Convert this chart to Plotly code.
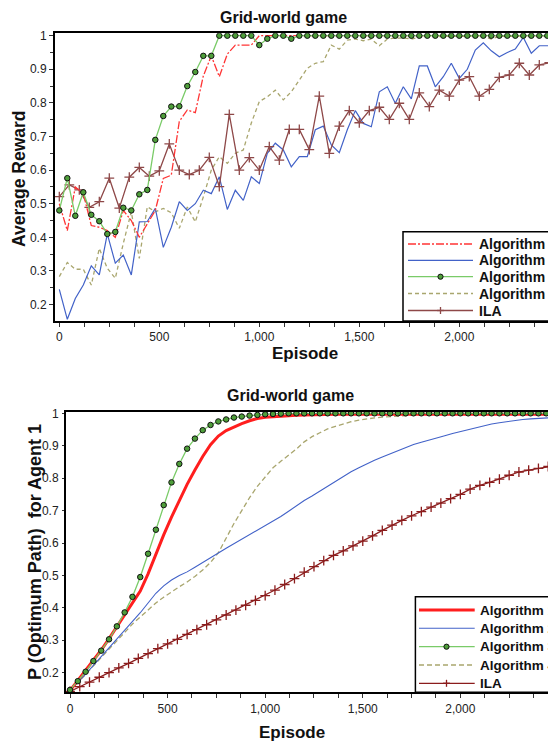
import plotly.graph_objects as go

W, H = 548, 742
FONT = "Liberation Sans, Arial, Helvetica, sans-serif"

# ---------------- data ----------------
episodes_alg = list(range(0, 2521, 40))   # Algorithms 1-4 sampled every 40 episodes
episodes_ila = list(range(0, 2501, 50))   # ILA sampled every 50 episodes

series_names = ["Algorithm 1", "Algorithm 2", "Algorithm 3", "Algorithm 4", "ILA"]

# Top chart: Average Reward
reward_alg1 = [0.50, 0.42, 0.55, 0.53, 0.435, 0.43, 0.42, 0.40, 0.48, 0.45,
               0.40, 0.44, 0.48, 0.575, 0.585, 0.745, 0.779, 0.771, 0.88, 0.94,
               0.878, 0.945, 0.972, 0.972, 0.972, 1.0, 1.0, 1.0, 0.998, 1.0,
               1.0, 1.0, 1.0, 1.0, 1.0, 1.0, 1.0, 1.0, 1.0, 1.0,
               1.0, 1.0, 1.0, 1.0, 1.0, 1.0, 1.0, 1.0, 1.0, 1.0,
               1.0, 1.0, 1.0, 1.0, 1.0, 1.0, 1.0, 1.0, 1.0, 1.0,
               1.0, 1.0, 1.0, 1.0]
reward_alg2 = [0.245, 0.156, 0.218, 0.258, 0.315, 0.288, 0.41, 0.323, 0.347, 0.288,
               0.446, 0.447, 0.486, 0.37, 0.43, 0.506, 0.48, 0.50, 0.54, 0.53,
               0.58, 0.483, 0.54, 0.51, 0.58, 0.56, 0.65, 0.68, 0.66, 0.61,
               0.64, 0.64, 0.72, 0.731, 0.675, 0.652, 0.72, 0.777, 0.739, 0.729,
               0.833, 0.848, 0.799, 0.848, 0.812, 0.91, 0.91, 0.848, 0.878, 0.918,
               0.873, 0.90, 0.957, 0.979, 0.955, 0.9375, 0.95, 0.96, 0.995, 0.948,
               0.97, 0.97, 0.97, 0.97]
reward_alg3 = [0.48, 0.576, 0.464, 0.534, 0.467, 0.448, 0.41, 0.416, 0.488, 0.48,
               0.528, 0.541, 0.69, 0.761, 0.789, 0.79, 0.85, 0.892, 0.94, 0.94,
               1.0, 1.0, 1.0, 1.0, 1.0, 0.972, 0.991, 1.0, 1.0, 0.991,
               1.0, 1.0, 1.0, 1.0, 1.0, 1.0, 1.0, 1.0, 1.0, 1.0,
               1.0, 1.0, 1.0, 1.0, 1.0, 1.0, 1.0, 1.0, 1.0, 1.0,
               1.0, 1.0, 1.0, 1.0, 1.0, 1.0, 1.0, 1.0, 1.0, 1.0,
               1.0, 1.0, 1.0, 1.0]
reward_alg4 = [0.283, 0.325, 0.305, 0.305, 0.258, 0.367, 0.308, 0.278, 0.382, 0.476,
               0.337, 0.491, 0.476, 0.486, 0.473, 0.427, 0.49, 0.446, 0.52, 0.60,
               0.64, 0.62, 0.65, 0.66, 0.74, 0.804, 0.818, 0.838, 0.809, 0.833,
               0.868, 0.903, 0.918, 0.923, 0.972, 0.96, 0.987, 0.99, 0.985, 0.99,
               0.97, 0.99, 0.993, 0.993, 0.99, 0.996, 0.997, 0.998, 0.998, 0.998,
               0.998, 0.998, 0.998, 0.998, 0.99, 0.998, 0.998, 0.998, 0.998, 0.998,
               0.998, 0.998, 0.998, 0.998]
reward_ila = [0.521, 0.556, 0.541, 0.489, 0.506, 0.576, 0.487, 0.579, 0.608, 0.582,
              0.598, 0.678, 0.60, 0.587, 0.60, 0.638, 0.551, 0.766, 0.60, 0.637,
              0.60, 0.67, 0.63, 0.721, 0.721, 0.661, 0.82, 0.65, 0.731, 0.777,
              0.741, 0.777, 0.787, 0.751, 0.799, 0.751, 0.83, 0.789, 0.838, 0.82,
              0.868, 0.878, 0.82, 0.84, 0.876, 0.883, 0.918, 0.883, 0.913, 0.92,
              0.925]

# Bottom chart: P(Optimum Path) for Agent 1
popt_alg1 = [0.145, 0.176, 0.205, 0.238, 0.27, 0.305, 0.342, 0.38, 0.418, 0.452,
             0.505, 0.567, 0.625, 0.68, 0.733, 0.781, 0.825, 0.867, 0.903, 0.93,
             0.947, 0.958, 0.968, 0.977, 0.984, 0.988, 0.99, 0.992, 0.993, 0.994,
             0.995, 0.996, 0.996, 0.997, 0.997, 0.997, 0.997, 0.997, 0.997, 0.997,
             0.997, 0.997, 0.997, 0.997, 0.997, 0.997, 0.997, 0.997, 0.997, 0.997,
             0.997, 0.997, 0.997, 0.997, 0.997, 0.997, 0.997, 0.997, 0.997, 0.997,
             0.997, 0.997, 0.997, 0.997]
popt_alg2 = [0.145, 0.169, 0.196, 0.223, 0.25, 0.276, 0.303, 0.33, 0.357, 0.385,
             0.415, 0.445, 0.468, 0.486, 0.50, 0.511, 0.525, 0.539, 0.553, 0.569,
             0.584, 0.598, 0.611, 0.627, 0.641, 0.655, 0.668, 0.682, 0.698, 0.715,
             0.731, 0.745, 0.76, 0.774, 0.788, 0.805, 0.82, 0.832, 0.844, 0.855,
             0.865, 0.875, 0.886, 0.896, 0.904, 0.911, 0.917, 0.924, 0.931, 0.938,
             0.944, 0.95, 0.956, 0.962, 0.967, 0.971, 0.975, 0.978, 0.981, 0.983,
             0.985, 0.986, 0.987, 0.988]
popt_alg3 = [0.147, 0.174, 0.203, 0.236, 0.268, 0.303, 0.343, 0.386, 0.434, 0.495,
             0.567, 0.641, 0.717, 0.787, 0.844, 0.891, 0.922, 0.948, 0.964, 0.975,
             0.981, 0.987, 0.99, 0.993, 0.995, 0.997, 0.998, 0.999, 1.0, 1.0,
             1.0, 1.0, 1.0, 1.0, 1.0, 1.0, 1.0, 1.0, 1.0, 1.0,
             1.0, 1.0, 1.0, 1.0, 1.0, 1.0, 1.0, 1.0, 1.0, 1.0,
             1.0, 1.0, 1.0, 1.0, 1.0, 1.0, 1.0, 1.0, 1.0, 1.0,
             1.0, 1.0, 1.0, 1.0]
popt_alg4 = [0.145, 0.169, 0.195, 0.221, 0.247, 0.272, 0.298, 0.324, 0.35, 0.372,
             0.395, 0.415, 0.433, 0.45, 0.465, 0.48, 0.497, 0.517, 0.54, 0.57,
             0.615, 0.66, 0.70, 0.74, 0.775, 0.805, 0.832, 0.852, 0.87, 0.89,
             0.912, 0.928, 0.94, 0.952, 0.96, 0.968, 0.974, 0.979, 0.983, 0.986,
             0.988, 0.99, 0.992, 0.994, 0.995, 0.996, 0.996, 0.997, 0.997, 0.997,
             0.997, 0.997, 0.997, 0.997, 0.997, 0.997, 0.997, 0.997, 0.997, 0.997,
             0.997, 0.997, 0.997, 0.997]
popt_ila = [0.142, 0.157, 0.171, 0.186, 0.2, 0.215, 0.229, 0.244, 0.259, 0.274,
            0.289, 0.303, 0.318, 0.333, 0.348, 0.363, 0.378, 0.393, 0.408, 0.423,
            0.438, 0.455, 0.472, 0.49, 0.51, 0.527, 0.546, 0.562, 0.576, 0.591,
            0.606, 0.622, 0.639, 0.655, 0.67, 0.684, 0.697, 0.711, 0.723, 0.737,
            0.75, 0.766, 0.778, 0.787, 0.797, 0.809, 0.819, 0.825, 0.83, 0.836,
            0.84]

# ---------------- styles ----------------
RED_TOP = "#FF3535"
RED_BOT = "#FF1E1E"
BLUE = "#4262C8"
GREEN_LINE = "#7ACB68"
GREEN_MARK = "#4E9E3A"
OLIVE = "#A9A66E"
ILA_TOP = "#8E4848"
ILA_BOT = "#8B1C1C"

top_styles = {
    "Algorithm 1": dict(line=dict(color=RED_TOP, width=1.3, dash="8px,2px,2px,2px")),
    "Algorithm 2": dict(line=dict(color=BLUE, width=1.2)),
    "Algorithm 3": dict(line=dict(color=GREEN_LINE, width=1.3), marker="circle"),
    "Algorithm 4": dict(line=dict(color=OLIVE, width=1.3, dash="4px,3px")),
    "ILA": dict(line=dict(color=ILA_TOP, width=1.3), marker="cross"),
}
bot_styles = {
    "Algorithm 1": dict(line=dict(color=RED_BOT, width=3)),
    "Algorithm 2": dict(line=dict(color=BLUE, width=1.1)),
    "Algorithm 3": dict(line=dict(color=GREEN_LINE, width=1.3), marker="circle"),
    "Algorithm 4": dict(line=dict(color=OLIVE, width=1.3, dash="5px,3px")),
    "ILA": dict(line=dict(color=ILA_BOT, width=1.3), marker="cross"),
}


def marker_for(kind, color):
    if kind == "circle":
        return dict(symbol="circle", size=5.5, color=GREEN_MARK, line=dict(color="#111111", width=1))
    if kind == "cross":
        return dict(symbol="cross-thin", size=7, line=dict(color=color, width=1.3))
    return None


fig = go.Figure()

top_data = {
    "Algorithm 1": (episodes_alg, reward_alg1),
    "Algorithm 2": (episodes_alg, reward_alg2),
    "Algorithm 3": (episodes_alg, reward_alg3),
    "Algorithm 4": (episodes_alg, reward_alg4),
    "ILA": (episodes_ila, reward_ila),
}
bot_data = {
    "Algorithm 1": (episodes_alg, popt_alg1),
    "Algorithm 2": (episodes_alg, popt_alg2),
    "Algorithm 3": (episodes_alg, popt_alg3),
    "Algorithm 4": (episodes_alg, popt_alg4),
    "ILA": (episodes_ila, popt_ila),
}

for name in ["Algorithm 4", "Algorithm 2", "ILA", "Algorithm 1", "Algorithm 3"]:
    xs, ys = top_data[name]
    st = top_styles[name]
    mk = marker_for(st.get("marker"), st["line"]["color"])
    fig.add_trace(go.Scatter(x=xs, y=ys, name=name, mode="lines+markers" if mk else "lines",
                             line=st["line"], marker=mk, xaxis="x", yaxis="y", showlegend=False))

for name in ["ILA", "Algorithm 4", "Algorithm 2", "Algorithm 1", "Algorithm 3"]:
    xs, ys = bot_data[name]
    st = bot_styles[name]
    mk = marker_for(st.get("marker"), st["line"]["color"])
    fig.add_trace(go.Scatter(x=xs, y=ys, name=name, mode="lines+markers" if mk else "lines",
                             line=st["line"], marker=mk, xaxis="x2", yaxis="y2", showlegend=False))


def px(x):
    return x / W


def py(y):
    return 1 - y / H


axis_common = dict(showline=True, linecolor="black", linewidth=2, showgrid=False, zeroline=False,
                   ticks="outside", tickcolor="#333333", tickwidth=1,
                   tickfont=dict(family=FONT, size=12, color="#222222"))

fig.update_layout(
    width=W, height=H,
    margin=dict(l=0, r=0, t=0, b=0, autoexpand=False),
    paper_bgcolor="white", plot_bgcolor="white",
    showlegend=False,
    font=dict(family=FONT),
    xaxis=dict(domain=[px(55), 1], range=[-21.5, 2443.5], anchor="y", mirror=True,
               tick0=0, dtick=500, tickformat=",d", ticklen=4,
               minor=dict(dtick=125, ticklen=4, ticks="outside", tickcolor="#333333"),
               **axis_common),
    yaxis=dict(domain=[py(321), py(33.3)], range=[0.151, 1.0071], anchor="x",
               tick0=0, dtick=0.1, ticklen=4,
               minor=dict(dtick=0.05, ticklen=3, ticks="outside", tickcolor="#333333"),
               **axis_common),
    xaxis2=dict(domain=[px(66), 1], range=[-20.5, 2449], anchor="y2", mirror=True,
                tick0=0, dtick=500, tickformat=",d", ticklen=4,
                minor=dict(dtick=125, ticklen=4, ticks="outside", tickcolor="#333333"),
                **axis_common),
    yaxis2=dict(domain=[py(692.3), py(411.7)], range=[0.1396, 1.005], anchor="x2",
                tick0=0, dtick=0.1, ticklen=2, ticklabelstandoff=1,
                **axis_common),
)

annotations = []


def add_text(text, x, y, size, angle=0, xanchor="center"):
    annotations.append(dict(text=text, x=px(x), y=py(y), xref="paper", yref="paper",
                            xanchor=xanchor, yanchor="middle", showarrow=False, textangle=angle,
                            font=dict(family=FONT, size=size, color="#111111", weight="bold")))


add_text("Grid-world game", 283.5, 17, 16)
add_text("Average Reward", 19, 179, 17.5, angle=-90)
add_text("Episode", 304.5, 353.5, 17)
add_text("Grid-world game", 290.5, 395, 16)
add_text("P (Optimum Path)\u00a0\u00a0for Agent 1", 35, 552, 18, angle=-90)
add_text("Episode", 291.5, 732.5, 17)

shapes = []


def legend_box(x0, y0, y1, rows, line_x0, line_x1, text_x, styles, font_size, mark_x):
    shapes.append(dict(type="rect", xref="paper", yref="paper", x0=px(x0), x1=px(x0 + 250),
                       y0=py(y1), y1=py(y0), line=dict(color="black", width=1.5),
                       fillcolor="white", layer="above"))
    for name, ry in zip(series_names, rows):
        st = styles[name]
        ln = dict(st["line"])
        shapes.append(dict(type="line", xref="paper", yref="paper", x0=px(line_x0), x1=px(line_x1),
                           y0=py(ry), y1=py(ry), line=ln, layer="above"))
        kind = st.get("marker")
        if kind == "circle":
            shapes.append(dict(type="circle", xref="paper", yref="paper", xsizemode="pixel",
                               ysizemode="pixel", xanchor=px(mark_x), yanchor=py(ry),
                               x0=-2.6, x1=2.6, y0=-2.6, y1=2.6, fillcolor=GREEN_MARK,
                               line=dict(color="#111111", width=1), layer="above"))
        elif kind == "cross":
            for (a0, a1, b0, b1) in [(-3.5, 3.5, 0, 0), (0, 0, -3.5, 3.5)]:
                shapes.append(dict(type="line", xref="paper", yref="paper", xsizemode="pixel",
                                   ysizemode="pixel", xanchor=px(mark_x), yanchor=py(ry),
                                   x0=a0, x1=a1, y0=b0, y1=b1,
                                   line=dict(color=ln["color"], width=1.3), layer="above"))
        add_text(name, text_x, ry, font_size, xanchor="left")


legend_box(403, 231.7, 321, [244, 260.3, 276.7, 293.5, 310.5], 408, 473, 477, top_styles, 14, 440.5)
legend_box(415.4, 596.7, 692.3, [610, 628.3, 646.7, 665, 683.3], 419, 474.7, 478, bot_styles, 13.5, 446.5)

fig.update_layout(annotations=annotations, shapes=shapes)

fig.write_html("out.html")
